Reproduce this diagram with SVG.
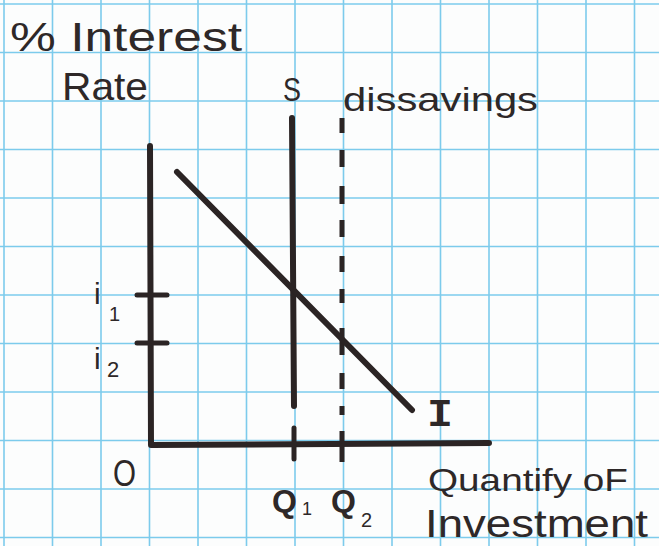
<svg xmlns="http://www.w3.org/2000/svg" width="659" height="546" viewBox="0 0 659 546">
<defs>
<style>
.grid line{stroke:#7ccbec;stroke-width:1.6}
.ink{stroke:#2b2424;stroke-linecap:round;fill:none}
.t{font-family:"Liberation Sans","DejaVu Sans",sans-serif;fill:#2e2828}
.m{font-family:"Liberation Mono","DejaVu Sans Mono",monospace;font-weight:bold;fill:#2e2828}
</style>
</defs>
<rect width="659" height="546" fill="#fcfdfd"/>
<g id="grid" class="grid">
<line x1="4" y1="0" x2="4" y2="546"/>
<line x1="52.5" y1="0" x2="52.5" y2="546"/>
<line x1="101" y1="0" x2="101" y2="546"/>
<line x1="149.5" y1="0" x2="149.5" y2="546"/>
<line x1="198" y1="0" x2="198" y2="546"/>
<line x1="246.5" y1="0" x2="246.5" y2="546"/>
<line x1="295" y1="0" x2="295" y2="546"/>
<line x1="343.5" y1="0" x2="343.5" y2="546"/>
<line x1="392" y1="0" x2="392" y2="546"/>
<line x1="440.5" y1="0" x2="440.5" y2="546"/>
<line x1="489" y1="0" x2="489" y2="546"/>
<line x1="537.5" y1="0" x2="537.5" y2="546"/>
<line x1="586" y1="0" x2="586" y2="546"/>
<line x1="634.5" y1="0" x2="634.5" y2="546"/>
<line x1="0" y1="4" x2="659" y2="4"/>
<line x1="0" y1="52.5" x2="659" y2="52.5"/>
<line x1="0" y1="101" x2="659" y2="101"/>
<line x1="0" y1="149.5" x2="659" y2="149.5"/>
<line x1="0" y1="198" x2="659" y2="198"/>
<line x1="0" y1="246.5" x2="659" y2="246.5"/>
<line x1="0" y1="295" x2="659" y2="295"/>
<line x1="0" y1="343.5" x2="659" y2="343.5"/>
<line x1="0" y1="392" x2="659" y2="392"/>
<line x1="0" y1="440.5" x2="659" y2="440.5"/>
<line x1="0" y1="489" x2="659" y2="489"/>
<line x1="0" y1="537.5" x2="659" y2="537.5"/>
</g>
<g id="axes" class="ink">
<path d="M150 146 L151 445 L489 443" stroke-width="6" stroke-linejoin="round"/>
<line x1="137" y1="295" x2="167" y2="295" stroke-width="5"/>
<line x1="137" y1="343" x2="167" y2="343" stroke-width="5"/>
</g>
<g id="connectors" class="ink">
<g id="supply-S">
<line x1="292" y1="118" x2="294" y2="406" stroke-width="6"/>
<line x1="294" y1="428" x2="294" y2="459" stroke-width="5"/>
</g>
<g id="dissavings-line">
<path d="M342 118 V133 M342 150 V167 M342 186 V204 M342 220 V237 M342 256 V272 M342 289 V303 M342 328 V355 M342 373 V389 M342 406 V415 M342 431 V462" stroke-width="5" stroke-linecap="butt"/>
</g>
<g id="investment-I">
<line x1="177" y1="172" x2="412" y2="410" stroke-width="6"/>
</g>
</g>
<g id="labels">
<text class="t" x="10" y="51" font-size="40" textLength="232" lengthAdjust="spacingAndGlyphs">% Interest</text>
<text class="t" x="62" y="100" font-size="39" textLength="86" lengthAdjust="spacingAndGlyphs">Rate</text>
<text class="t" x="283" y="101" font-size="34" textLength="18" lengthAdjust="spacingAndGlyphs">S</text>
<text class="t" x="343" y="111" font-size="34" textLength="195" lengthAdjust="spacingAndGlyphs">dissavings</text>
<text class="t" x="94" y="304" font-size="30">i</text>
<text class="t" x="109" y="321" font-size="20">1</text>
<text class="t" x="94" y="369" font-size="30">i</text>
<text class="t" x="107" y="377" font-size="22">2</text>
<text class="t" x="113" y="486" font-size="36" textLength="23" lengthAdjust="spacingAndGlyphs">O</text>
<text class="m" x="427" y="426" font-size="38" textLength="26" lengthAdjust="spacingAndGlyphs">I</text>
<text class="t" x="272" y="512" font-size="32" font-weight="bold">Q</text>
<text class="t" x="302" y="515" font-size="18">1</text>
<text class="t" x="331" y="512" font-size="32" font-weight="bold">Q</text>
<text class="t" x="361" y="527" font-size="20">2</text>
<text class="t" x="428" y="491" font-size="32" textLength="200" lengthAdjust="spacingAndGlyphs">Quantify oF</text>
<text class="t" x="425" y="537" font-size="38" textLength="223" lengthAdjust="spacingAndGlyphs">Investment</text>
</g>
</svg>
